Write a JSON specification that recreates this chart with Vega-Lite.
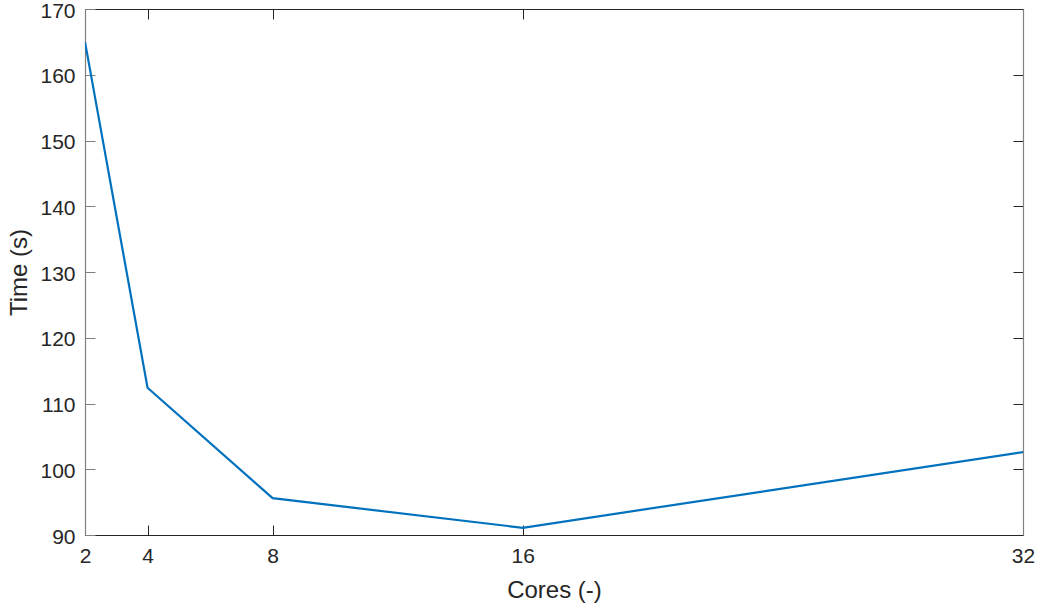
{
  "$schema": "https://vega.github.io/schema/vega-lite/v6.json",
  "width": 938,
  "height": 526,
  "autosize": {"type": "none"},
  "padding": {"left": 85, "top": 9, "right": 17, "bottom": 75},
  "background": "white",
  "config": {
    "view": {"stroke": null},
    "font": "Liberation Sans"
  },
  "data": {
    "values": [
      {"cores": 2, "time": 165.0},
      {"cores": 4, "time": 112.4},
      {"cores": 8, "time": 95.6},
      {"cores": 16, "time": 91.1},
      {"cores": 32, "time": 102.6}
    ]
  },
  "layer": [
    {
      "mark": {"type": "line", "color": "#0072BD", "strokeWidth": 2.2, "clip": true},
      "encoding": {
        "x": {
          "field": "cores", "type": "quantitative",
          "scale": {"domain": [2, 32], "nice": false, "zero": false},
          "axis": {"orient": "bottom", "values": [2, 4, 8, 16, 32], "title": "Cores (-)",
                   "grid": false, "labelFlush": false,
                   "labelFont": "Liberation Sans", "labelFontSize": 21, "labelColor": "#262626",
                   "titleFont": "Liberation Sans", "titleFontSize": 24, "titleColor": "#262626", "titleFontWeight": "normal",
                   "tickSize": -10, "tickWidth": 1, "domainWidth": 1.2,
                   "domainColor": "#262626", "tickColor": "#262626",
                   "labelPadding": 20, "titlePadding": 12}
        },
        "y": {
          "field": "time", "type": "quantitative",
          "scale": {"domain": [90, 170], "nice": false, "zero": false},
          "axis": {"orient": "left", "values": [90, 100, 110, 120, 130, 140, 150, 160, 170],
                   "title": "Time (s)", "grid": false, "labelFlush": false, "labelOffset": 2,
                   "labelFont": "Liberation Sans", "labelFontSize": 21, "labelColor": "#262626",
                   "titleFont": "Liberation Sans", "titleFontSize": 24, "titleColor": "#262626", "titleFontWeight": "normal",
                   "tickSize": -10, "tickWidth": 1, "domainWidth": 1.2,
                   "domainColor": "#808080", "tickColor": "#808080",
                   "labelPadding": 20, "titlePadding": 8}
        }
      }
    },
    {
      "mark": {"type": "line", "opacity": 0},
      "encoding": {
        "x": {
          "field": "cores", "type": "quantitative",
          "scale": {"domain": [2, 32], "nice": false, "zero": false},
          "axis": {"orient": "top", "values": [2, 4, 8, 16, 32], "labels": false, "title": null, "grid": false,
                   "tickSize": -10, "tickWidth": 1, "domainWidth": 1.2,
                   "domainColor": "#262626", "tickColor": "#262626"}
        },
        "y": {
          "field": "time", "type": "quantitative",
          "scale": {"domain": [90, 170], "nice": false, "zero": false},
          "axis": {"orient": "right", "values": [90, 100, 110, 120, 130, 140, 150, 160, 170],
                   "labels": false, "title": null, "grid": false,
                   "tickSize": -10, "tickWidth": 1, "domainWidth": 1.2,
                   "domainColor": "#808080", "tickColor": "#262626"}
        }
      }
    }
  ],
  "resolve": {"scale": {"x": "independent", "y": "independent"}, "axis": {"x": "independent", "y": "independent"}}
}
